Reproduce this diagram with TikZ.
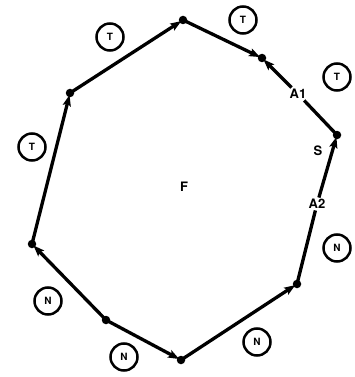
\documentclass[tikz,border=0pt]{standalone}
\usepackage{fontspec}
\setmainfont{TeX Gyre Heros}
\usetikzlibrary{arrows.meta}
\begin{document}
\begin{tikzpicture}[x=1pt,y=-1pt,
  edge/.style={line width=3.3pt,-{Stealth[length=11pt,width=8pt,inset=2pt]},shorten >=2pt},
  plainedge/.style={line width=3.3pt},
  vdot/.style={circle,fill=black,inner sep=0pt,minimum size=8.5pt},
  circ/.style={circle,draw,line width=2.5pt,minimum size=27pt,inner sep=0pt,font=\bfseries\fontsize{10}{10}\selectfont},
  lab/.style={font=\bfseries\fontsize{13}{13}\selectfont,inner sep=1.5pt}]
\useasboundingbox (0,0) rectangle (354,377);
\coordinate (v1) at (32,244);
\coordinate (v2) at (70,93);
\coordinate (v3) at (183,20);
\coordinate (v4) at (262,58);
\coordinate (v5) at (337,135);
\coordinate (v6) at (297,284);
\coordinate (v7) at (181,360);
\coordinate (v8) at (106,320);
\node[lab] (A1) at (298,94) {A1};
\node[lab] (A2) at (317,204) {A2};
\node[lab] (S) at (318,151) {S};
\node[lab] (F) at (184,187) {F};
\draw[edge] (v1) -- (v2);
\draw[edge] (v2) -- (v3);
\draw[edge] (v3) -- (v4);
\draw[plainedge,shorten <=2pt] (v5) -- (A1);
\draw[edge] (A1) -- (v4);
\draw[plainedge] (v6) -- (A2);
\draw[edge] (A2) -- (v5);
\draw[edge] (v7) -- (v6);
\draw[edge] (v8) -- (v7);
\draw[edge] (v8) -- (v1);
\foreach \v in {v1,v2,v3,v4,v5,v6,v7,v8} \node[vdot] (d\v) at (\v) {};
\node[circ] (t1) at (110,37) {T};
\node[circ] (t2) at (243,20) {T};
\node[circ] (t3) at (337,77) {T};
\node[circ] (t4) at (32,147) {T};
\node[circ] (n1) at (337,248) {N};
\node[circ] (n2) at (48,301) {N};
\node[circ] (n3) at (124,357) {N};
\node[circ] (n4) at (257,342) {N};
\end{tikzpicture}
\end{document}
